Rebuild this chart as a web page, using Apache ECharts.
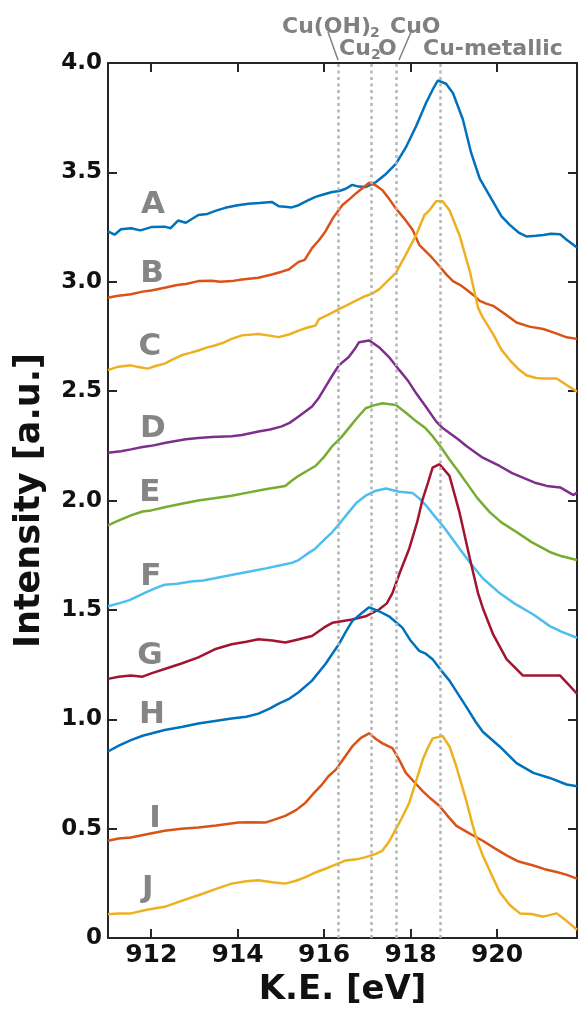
<!DOCTYPE html>
<html>
<head>
<meta charset="utf-8">
<script src="https://cdn.jsdelivr.net/npm/echarts@6/dist/echarts.min.js"></script>
<style>
html,body{margin:0;padding:0;background:#fff;}
#chart{width:578px;height:1012px;}
</style>
</head>
<body>
<div id="chart"></div>
<script>
// ---- Data (K.E. [eV], Intensity [a.u.]) ----
const curveA = [[911.0,3.23],[911.15,3.215],[911.3,3.24],[911.53,3.245],[911.75,3.235],[912.0,3.25],[912.31,3.252],[912.45,3.245],[912.62,3.28],[912.8,3.27],[913.09,3.305],[913.3,3.31],[913.5,3.325],[913.71,3.338],[914.0,3.35],[914.25,3.357],[914.5,3.36],[914.79,3.365],[914.95,3.345],[915.1,3.343],[915.25,3.34],[915.41,3.35],[915.6,3.37],[915.8,3.388],[916.0,3.4],[916.19,3.41],[916.35,3.415],[916.5,3.425],[916.65,3.443],[916.8,3.435],[916.96,3.433],[917.2,3.456],[917.43,3.493],[917.66,3.539],[917.89,3.614],[918.13,3.712],[918.36,3.818],[918.51,3.878],[918.63,3.92],[918.82,3.905],[918.98,3.863],[919.21,3.742],[919.4,3.59],[919.6,3.471],[919.91,3.365],[920.1,3.3],[920.3,3.259],[920.5,3.225],[920.68,3.207],[920.9,3.21],[921.07,3.214],[921.25,3.22],[921.46,3.217],[921.61,3.192],[921.85,3.157]];
const curveB = [[911.0,2.927],[911.2,2.935],[911.53,2.943],[911.8,2.955],[912.0,2.96],[912.31,2.973],[912.6,2.985],[912.8,2.99],[913.09,3.003],[913.4,3.005],[913.6,3.0],[913.86,3.003],[914.1,3.01],[914.48,3.018],[914.79,3.033],[915.0,3.045],[915.18,3.056],[915.41,3.091],[915.55,3.1],[915.72,3.154],[915.88,3.19],[916.03,3.23],[916.2,3.29],[916.42,3.35],[916.6,3.38],[916.73,3.403],[916.9,3.43],[917.04,3.453],[917.2,3.44],[917.35,3.418],[917.5,3.38],[917.66,3.335],[917.85,3.29],[918.05,3.237],[918.2,3.169],[918.45,3.12],[918.67,3.071],[918.82,3.035],[918.98,3.003],[919.15,2.985],[919.29,2.965],[919.45,2.94],[919.6,2.913],[919.75,2.9],[919.91,2.89],[920.2,2.85],[920.45,2.814],[920.75,2.795],[921.07,2.784],[921.35,2.765],[921.61,2.746],[921.85,2.739]];
const curveC = [[911.0,2.596],[911.2,2.61],[911.53,2.618],[911.7,2.61],[911.92,2.603],[912.1,2.615],[912.31,2.626],[912.5,2.645],[912.7,2.664],[912.9,2.675],[913.09,2.686],[913.3,2.7],[913.47,2.709],[913.65,2.72],[913.86,2.739],[914.1,2.755],[914.48,2.761],[914.7,2.755],[914.95,2.747],[915.2,2.76],[915.41,2.777],[915.6,2.79],[915.8,2.8],[915.88,2.829],[916.1,2.85],[916.34,2.875],[916.5,2.89],[916.7,2.91],[916.96,2.935],[917.1,2.945],[917.27,2.965],[917.5,3.01],[917.66,3.041],[917.89,3.124],[918.13,3.214],[918.32,3.305],[918.45,3.33],[918.59,3.368],[918.74,3.368],[918.9,3.327],[919.13,3.214],[919.37,3.048],[919.56,2.882],[919.67,2.837],[919.91,2.761],[920.1,2.69],[920.3,2.641],[920.5,2.6],[920.68,2.573],[920.9,2.56],[921.07,2.558],[921.38,2.558],[921.61,2.528],[921.85,2.498]];
const curveD = [[911.0,2.218],[911.3,2.225],[911.53,2.234],[911.8,2.245],[912.0,2.25],[912.31,2.263],[912.5,2.27],[912.8,2.28],[913.09,2.286],[913.4,2.29],[913.86,2.294],[914.1,2.3],[914.48,2.316],[914.75,2.325],[915.02,2.339],[915.2,2.355],[915.41,2.384],[915.55,2.405],[915.72,2.43],[915.88,2.47],[916.03,2.52],[916.2,2.575],[916.34,2.618],[916.57,2.656],[916.7,2.69],[916.81,2.724],[917.04,2.732],[917.27,2.701],[917.5,2.656],[917.74,2.596],[917.95,2.545],[918.13,2.49],[918.35,2.43],[918.59,2.362],[918.75,2.33],[918.9,2.309],[919.1,2.28],[919.29,2.249],[919.5,2.22],[919.67,2.196],[920.06,2.158],[920.35,2.125],[920.68,2.098],[920.9,2.08],[921.15,2.067],[921.46,2.06],[921.77,2.025],[921.85,2.037]];
const curveE = [[911.0,1.886],[911.2,1.905],[911.53,1.932],[911.8,1.95],[912.0,1.955],[912.31,1.969],[912.7,1.985],[913.09,2.0],[913.5,2.012],[913.86,2.022],[914.2,2.035],[914.64,2.052],[915.1,2.067],[915.25,2.09],[915.41,2.113],[915.6,2.135],[915.8,2.158],[916.0,2.2],[916.19,2.249],[916.4,2.29],[916.57,2.331],[916.75,2.375],[916.96,2.422],[917.15,2.435],[917.35,2.445],[917.66,2.437],[917.9,2.4],[918.13,2.362],[918.35,2.33],[918.51,2.294],[918.7,2.245],[918.9,2.188],[919.1,2.135],[919.29,2.082],[919.55,2.01],[919.83,1.947],[920.1,1.9],[920.45,1.856],[920.8,1.81],[921.22,1.765],[921.5,1.745],[921.85,1.728]];
const curveF = [[911.0,1.517],[911.25,1.53],[911.5,1.545],[911.85,1.578],[912.1,1.6],[912.31,1.615],[912.6,1.62],[912.93,1.63],[913.2,1.635],[913.47,1.645],[913.85,1.66],[914.25,1.675],[914.65,1.69],[915.02,1.705],[915.25,1.715],[915.41,1.728],[915.6,1.755],[915.8,1.781],[916.0,1.82],[916.19,1.856],[916.4,1.905],[916.57,1.947],[916.75,1.99],[916.96,2.022],[917.2,2.045],[917.43,2.055],[917.74,2.04],[918.05,2.034],[918.2,2.01],[918.36,1.977],[918.55,1.93],[918.74,1.886],[918.95,1.83],[919.13,1.781],[919.4,1.71],[919.67,1.645],[920.06,1.577],[920.4,1.53],[920.84,1.479],[921.22,1.426],[921.5,1.4],[921.85,1.373]];
const curveG = [[911.0,1.185],[911.25,1.195],[911.53,1.2],[911.8,1.195],[912.0,1.21],[912.31,1.23],[912.7,1.255],[913.09,1.283],[913.47,1.32],[913.86,1.343],[914.2,1.355],[914.48,1.366],[914.8,1.36],[915.1,1.351],[915.4,1.365],[915.72,1.381],[916.0,1.42],[916.19,1.441],[916.65,1.456],[916.96,1.471],[917.27,1.502],[917.45,1.53],[917.58,1.577],[917.75,1.67],[917.97,1.781],[918.15,1.9],[918.28,2.007],[918.4,2.08],[918.51,2.15],[918.67,2.166],[918.9,2.113],[919.13,1.947],[919.37,1.736],[919.56,1.577],[919.67,1.509],[919.91,1.388],[920.22,1.275],[920.6,1.2],[920.84,1.2],[921.1,1.2],[921.46,1.2],[921.65,1.16],[921.85,1.117]];
const curveH = [[911.0,0.853],[911.25,0.88],[911.53,0.905],[911.8,0.925],[912.0,0.935],[912.31,0.951],[912.7,0.965],[913.09,0.981],[913.86,1.004],[914.2,1.012],[914.48,1.026],[914.75,1.05],[914.95,1.072],[915.2,1.095],[915.41,1.124],[915.72,1.177],[916.03,1.253],[916.34,1.343],[916.5,1.4],[916.65,1.449],[916.88,1.487],[917.04,1.512],[917.27,1.494],[917.5,1.471],[917.81,1.419],[918.0,1.36],[918.2,1.313],[918.35,1.3],[918.51,1.275],[918.7,1.225],[918.9,1.177],[919.1,1.115],[919.29,1.057],[919.5,0.99],[919.67,0.943],[920.06,0.876],[920.45,0.8],[920.84,0.755],[921.22,0.732],[921.61,0.702],[921.85,0.694]];
const curveI = [[911.0,0.445],[911.25,0.455],[911.53,0.46],[911.9,0.475],[912.31,0.491],[912.7,0.5],[913.09,0.506],[913.5,0.515],[914.02,0.528],[914.3,0.53],[914.64,0.528],[914.9,0.545],[915.1,0.559],[915.35,0.585],[915.57,0.619],[915.75,0.66],[915.95,0.702],[916.1,0.74],[916.27,0.77],[916.45,0.82],[916.65,0.876],[916.85,0.915],[917.04,0.936],[917.2,0.91],[917.35,0.89],[917.58,0.868],[917.75,0.81],[917.89,0.755],[918.1,0.71],[918.28,0.672],[918.45,0.64],[918.67,0.604],[918.85,0.56],[919.06,0.513],[919.35,0.48],[919.67,0.445],[919.95,0.41],[920.22,0.378],[920.5,0.35],[920.84,0.332],[921.1,0.315],[921.38,0.302],[921.6,0.29],[921.85,0.272]];
const curveJ = [[911.0,0.109],[911.25,0.112],[911.53,0.113],[911.9,0.13],[912.31,0.143],[912.7,0.17],[913.09,0.196],[913.5,0.225],[913.86,0.249],[914.2,0.26],[914.48,0.264],[914.8,0.255],[915.1,0.249],[915.35,0.262],[915.57,0.279],[915.8,0.3],[916.03,0.317],[916.25,0.335],[916.5,0.355],[916.75,0.36],[916.96,0.37],[917.2,0.385],[917.35,0.4],[917.5,0.44],[917.66,0.498],[917.8,0.55],[917.97,0.619],[918.1,0.7],[918.28,0.815],[918.4,0.87],[918.51,0.913],[918.74,0.924],[918.9,0.876],[919.05,0.79],[919.17,0.709],[919.3,0.62],[919.44,0.513],[919.55,0.44],[919.67,0.378],[919.85,0.3],[920.06,0.211],[920.3,0.15],[920.53,0.113],[920.8,0.11],[921.07,0.098],[921.38,0.113],[921.6,0.08],[921.85,0.038]];

const curveNames = ['A','B','C','D','E','F','G','H','I','J'];
// label anchor positions in data coordinates [K.E., intensity]
const labelPos = [[912.04,3.349],[912.02,3.037],[911.97,2.703],[912.04,2.327],[911.97,2.033],[911.99,1.652],[911.97,1.29],[912.02,1.018],[912.09,0.543],[911.92,0.226]];
// reference energies (dotted lines): Cu(OH)2, Cu2O, CuO, Cu-metallic
const refLines = [916.33, 917.08, 917.66, 918.68];
const xTicks = [912, 914, 916, 918, 920];

const curves = [curveA,curveB,curveC,curveD,curveE,curveF,curveG,curveH,curveI,curveJ];
const colors = ['#0072BD','#D95319','#EDB120','#7E2F8E','#77AC30','#4DBEEE','#A2142F','#0072BD','#D95319','#EDB120'];

const FONT = 'DejaVu Sans';
const axisCol = '#262626';

const series = [];
series.push({
  type: 'line', data: [], silent: true, z: 1,
  markLine: {
    silent: true, symbol: ['none','none'], label: {show: false},
    lineStyle: {color: '#b5b5b5', width: 2.5, type: [3, 3.5]},
    data: refLines.map(v => ({xAxis: v}))
  }
});
curves.forEach((c, i) => {
  series.push({
    type: 'line', name: curveNames[i], data: c, showSymbol: false, symbol: 'none',
    lineStyle: {color: colors[i], width: 2.5}, z: 3, silent: true
  });
});
series.push({
  type: 'scatter', symbolSize: 1, silent: true, z: 5,
  itemStyle: {color: 'rgba(0,0,0,0)'},
  data: labelPos.map((p, i) => ({name: curveNames[i], value: p})),
  label: {show: true, position: 'inside', formatter: '{b}', fontSize: 31, fontWeight: 'bold', color: '#666', fontFamily: FONT}
});

const greyTxt = '#808080';
function txt(x, y, s, size) {
  return {type: 'text', x: x, y: y, style: {text: s, fontSize: size, fontWeight: 'bold', fill: greyTxt, fontFamily: FONT, textAlign: 'left', textVerticalAlign: 'middle'}};
}

const option = {
  animation: false,
  backgroundColor: '#fff',
  grid: {left: 108, right: 1, top: 63, bottom: 65, containLabel: false},
  xAxis: [{
    type: 'value', min: 911, max: 921.85, position: 'bottom',
    axisLine: {show: true, onZero: false, lineStyle: {color: axisCol, width: 2}},
    axisTick: {show: true, inside: true, length: 9, lineStyle: {color: axisCol, width: 2}, customValues: xTicks},
    axisLabel: {customValues: xTicks, fontSize: 25, fontWeight: 'bold', color: '#111', margin: 5, fontFamily: FONT},
    splitLine: {show: false},
    name: 'K.E. [eV]', nameLocation: 'middle', nameGap: 31,
    nameTextStyle: {fontSize: 34, fontWeight: 'bold', color: '#111', fontFamily: FONT}
  }, {
    type: 'value', min: 911, max: 921.85, position: 'top',
    axisLine: {show: true, onZero: false, lineStyle: {color: axisCol, width: 2}},
    axisTick: {show: true, inside: true, length: 9, lineStyle: {color: axisCol, width: 2}, customValues: xTicks},
    axisLabel: {show: false}, splitLine: {show: false}
  }],
  yAxis: [{
    type: 'value', min: 0, max: 4, interval: 0.5, position: 'left',
    axisLine: {show: true, onZero: false, lineStyle: {color: axisCol, width: 2}},
    axisTick: {show: true, inside: true, length: 9, lineStyle: {color: axisCol, width: 2}},
    axisLabel: {fontSize: 23, fontWeight: 'bold', color: '#111', margin: 6, fontFamily: FONT,
      formatter: v => v === 0 ? '0' : v.toFixed(1)},
    splitLine: {show: false},
    name: 'Intensity [a.u.]', nameLocation: 'middle', nameGap: 61, nameRotate: 90,
    nameTextStyle: {fontSize: 35, fontWeight: 'bold', color: '#111', fontFamily: FONT}
  }, {
    type: 'value', min: 0, max: 4, interval: 0.5, position: 'right',
    axisLine: {show: true, onZero: false, lineStyle: {color: axisCol, width: 2}},
    axisTick: {show: true, inside: true, length: 9, lineStyle: {color: axisCol, width: 2}},
    axisLabel: {show: false}, splitLine: {show: false}
  }],
  series: series,
  graphic: [
    txt(282, 27, 'Cu(OH)', 22),
    txt(370, 33, '2', 14),
    txt(390, 27, 'CuO', 22),
    txt(339, 49, 'Cu', 22),
    txt(371, 55, '2', 14),
    txt(378, 49, 'O', 22),
    txt(423, 49, 'Cu-metallic', 22),
    {type: 'line', shape: {x1: 328, y1: 32, x2: 338, y2: 60}, style: {stroke: greyTxt, lineWidth: 1.5}},
    {type: 'line', shape: {x1: 411, y1: 32, x2: 399, y2: 60}, style: {stroke: greyTxt, lineWidth: 1.5}}
  ]
};

const chart = echarts.init(document.getElementById('chart'), null, {renderer: 'canvas'});
chart.setOption(option);
</script>
</body>
</html>
